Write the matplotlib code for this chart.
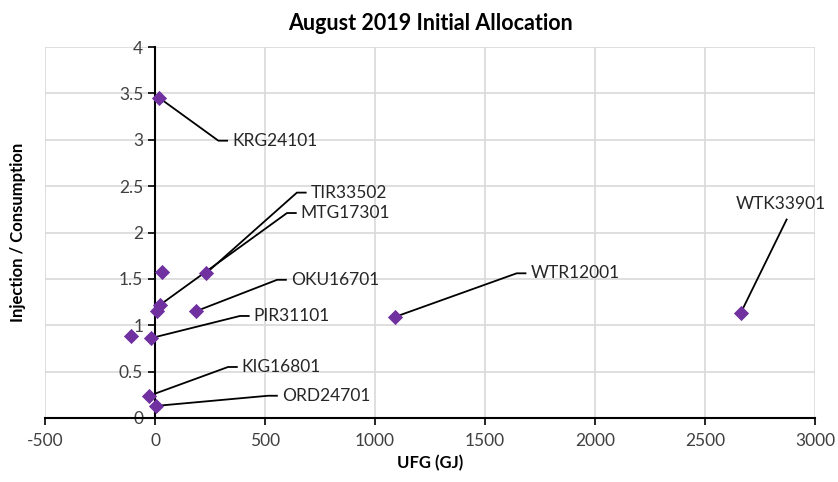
import matplotlib
matplotlib.use("Agg")
import matplotlib.pyplot as plt

plt.rcParams['font.family'] = ['Lato', 'DejaVu Sans']
plt.rcParams['axes.unicode_minus'] = False

ufg = [20, 232, 30, 23, 10, 185, -110, -20, -26, 3, 1091, 2662]
ratio = [3.45, 1.56, 1.57, 1.22, 1.15, 1.15, 0.88, 0.86, 0.24, 0.13, 1.09, 1.13]
names = ["KRG24101", "TIR33502", "", "MTG17301", "", "OKU16701", "", "PIR31101",
         "KIG16801", "ORD24701", "WTR12001", "WTK33901"]
# label knee positions (data coords)
knee_x = [288, 645, None, 600, None, 555, None, 386, 332, 514, 1644, 2871]
knee_y = [2.99, 2.43, None, 2.21, None, 1.49, None, 1.10, 0.55, 0.24, 1.56, 2.14]

xticks = [-500, 0, 500, 1000, 1500, 2000, 2500, 3000]
yticks = [0, 0.5, 1, 1.5, 2, 2.5, 3, 3.5, 4]
ytick_labels = ["0", "0.5", "1", "1.5", "2", "2.5", "3", "3.5", "4"]

fig = plt.figure(figsize=(8.38, 4.82), dpi=100)
ax = fig.add_axes([45/838, 1-418/482, 770/838, 371/482])

ax.set_xlim(-500, 3000)
ax.set_ylim(0, 4)
ax.set_xticks(xticks)
ax.set_yticks(yticks)
ax.set_yticklabels(ytick_labels)
ax.grid(True, color='#d9d9d9', linewidth=1.2)
ax.set_axisbelow(True)

for s in ['top', 'right']:
    ax.spines[s].set_visible(False)
ax.spines['left'].set_position(('data', 0))
ax.spines['left'].set_color('black')
ax.spines['bottom'].set_color('black')
ax.spines['left'].set_linewidth(1.5)
ax.spines['bottom'].set_linewidth(1.5)
ax.tick_params(axis='both', labelsize=12.5, colors='black', length=5, width=1.2,
               labelcolor='#404040')
ax.tick_params(axis='x', pad=6)

ax.scatter(ufg, ratio, marker='D', s=60, color='#7030A0', zorder=5, linewidths=0)

for x, y, n, kx, ky in zip(ufg, ratio, names, knee_x, knee_y):
    if not n:
        continue
    if n == "WTK33901":
        ax.plot([x, kx], [y, ky], color='black', lw=1.3, zorder=4)
        ax.text(kx - 25, ky + 0.08, n, fontsize=12.5, ha='center', va='bottom',
                color='#262626')
    else:
        ax.plot([x, kx, kx + 40], [y, ky, ky], color='black', lw=1.3, zorder=4)
        ax.text(kx + 62, ky, n, fontsize=12.5, ha='left', va='center', color='#262626')

ax.set_title("August 2019 Initial Allocation", fontsize=15.5, fontweight='bold', pad=12)
ax.set_xlabel("UFG (GJ)", fontsize=12, fontweight='bold', labelpad=4)
fig.text(18/838, 1-232/482, "Injection / Consumption", rotation=90, fontsize=12,
         fontweight='bold', ha='center', va='center')

fig.savefig("out.png", dpi=100, facecolor='white')
